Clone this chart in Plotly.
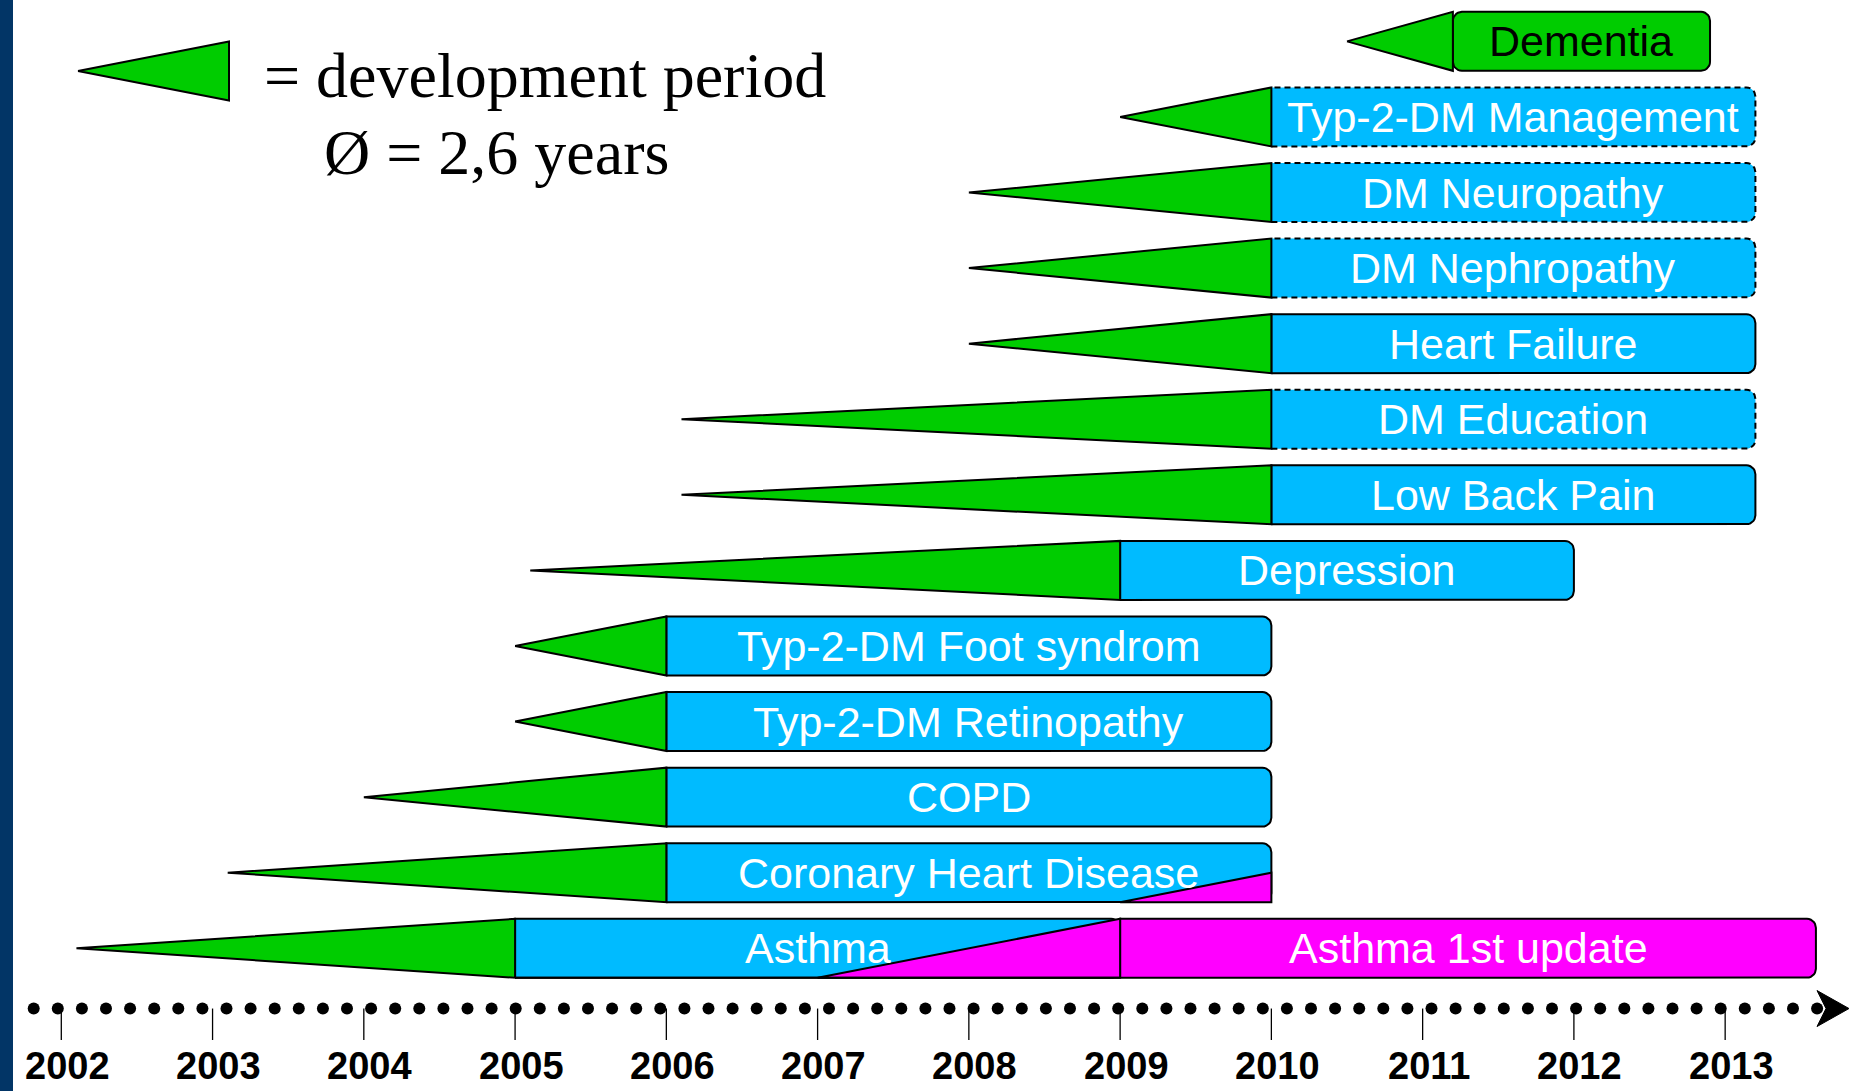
import numpy as np
import plotly.graph_objects as go

# ---------------- data ----------------
guidelines = ["Asthma", "Coronary Heart Disease", "COPD", "Typ-2-DM Retinopathy",
              "Typ-2-DM Foot syndrom", "Depression", "Low Back Pain", "DM Education",
              "Heart Failure", "DM Nephropathy", "DM Neuropathy",
              "Typ-2-DM Management", "Dementia"]
dev_start = [2002.1, 2003.1, 2004.0, 2005.0, 2005.0, 2005.1, 2006.1, 2006.1,
             2008.0, 2008.0, 2008.0, 2009.0, 2010.5]
published = [2005.0, 2006.0, 2006.0, 2006.0, 2006.0, 2009.0, 2010.0, 2010.0,
             2010.0, 2010.0, 2010.0, 2010.0, 2011.2]
valid_until = [2009.0, 2010.0, 2010.0, 2010.0, 2010.0, 2012.0, 2013.2, 2013.2,
               2013.2, 2013.2, 2013.2, 2013.2, 2012.9]
status = ["final", "final", "final", "final", "final", "final", "final", "draft",
          "final", "draft", "draft", "draft", "in development"]

# updates (start of update development, publication of update, validity end)
update_of = ["Asthma", "Coronary Heart Disease"]
update_start = [2007.0, 2009.0]
update_pub = [2009.0, None]
update_until = [2013.6, None]
update_label = ["Asthma 1st update", None]

years = list(range(2002, 2014))
year_labels = [str(y) for y in years]

legend_text = ["= development period", "Ø = 2,6 years"]

# ---------------- geometry / style ----------------
W, H = 1849, 1091
PX_PER_YEAR = 151.26
X0 = 2002 - 61.3 / PX_PER_YEAR
X1 = X0 + W / PX_PER_YEAR
PX_PER_ROW = 75.58
Y1 = 948.3 / PX_PER_ROW
Y0 = Y1 - H / PX_PER_ROW
HALF = 0.39  # half box height in rows

GREEN = "#00CC00"
BLUE = "#00BBFF"
MAGENTA = "#FF00FF"
NAVY = "#023566"
FONT = "Arial, 'Liberation Sans', sans-serif"
SERIF = "'Times New Roman', 'Liberation Serif', serif"

fig = go.Figure()


def poly(xs, ys, fill, line_color="black", width=2, dash=None, closed=True):
    if closed:
        xs = list(xs) + [xs[0]]
        ys = list(ys) + [ys[0]]
    fig.add_trace(go.Scatter(
        x=xs, y=ys, mode="lines",
        fill="toself" if fill else None, fillcolor=fill,
        line=dict(color=line_color, width=width, dash=dash),
        hoverinfo="skip", showlegend=False))


def rounded_box(x0, x1, yc, round_left=False, r_px=9):
    rx = r_px / PX_PER_YEAR
    ry = r_px / PX_PER_ROW
    yb, yt = yc - HALF, yc + HALF
    xs, ys = [], []
    if round_left:
        cx, cy = x0 + rx, yb + ry
        for a in np.linspace(np.pi, 1.5 * np.pi, 8):
            xs.append(cx + rx * np.cos(a)); ys.append(cy + ry * np.sin(a))
    else:
        xs.append(x0); ys.append(yb)
    cx, cy = x1 - rx, yb + ry
    for a in np.linspace(1.5 * np.pi, 2 * np.pi, 8):
        xs.append(cx + rx * np.cos(a)); ys.append(cy + ry * np.sin(a))
    cx, cy = x1 - rx, yt - ry
    for a in np.linspace(0, 0.5 * np.pi, 8):
        xs.append(cx + rx * np.cos(a)); ys.append(cy + ry * np.sin(a))
    if round_left:
        cx, cy = x0 + rx, yt - ry
        for a in np.linspace(0.5 * np.pi, np.pi, 8):
            xs.append(cx + rx * np.cos(a)); ys.append(cy + ry * np.sin(a))
    else:
        xs.append(x0); ys.append(yt)
    return xs, ys


annotations = []

for i, name in enumerate(guidelines):
    yc = i
    s, p, e, st = dev_start[i], published[i], valid_until[i], status[i]
    box_fill = GREEN if st == "in development" else BLUE
    xs, ys = rounded_box(p, e, yc, round_left=(st == "in development"))
    if st == "draft":
        poly(xs, ys, box_fill, line_color="rgba(0,0,0,0)", width=0)
        fig.add_trace(go.Scatter(
            x=[p] + xs[1:-1] + [p], y=[yc - HALF] + ys[1:-1] + [yc + HALF],
            mode="lines", line=dict(color="black", width=2, dash="6px,4px"),
            hoverinfo="skip", showlegend=False))
    else:
        poly(xs, ys, box_fill)
    # development triangle
    poly([s, p, p], [yc, yc - HALF, yc + HALF], GREEN)
    label_end = e
    if name in update_of:
        j = update_of.index(name)
        us, up = update_start[j], update_pub[j]
        if up is not None:
            xs2, ys2 = rounded_box(up, update_until[j], yc)
            poly(xs2, ys2, MAGENTA)
            poly([us, up, up], [yc - HALF, yc + HALF, yc - HALF], MAGENTA)
            poly([p, up], [yc - HALF, yc - HALF], None, closed=False)
            annotations.append(dict(x=(up + update_until[j]) / 2, y=yc, text=update_label[j],
                                    font=dict(family=FONT, size=43, color="white")))
            label_end = up
        else:
            poly([us, e, e], [yc - HALF, yc - HALF, yc], MAGENTA)
    txt_color = "black" if st == "in development" else "white"
    annotations.append(dict(x=(p + label_end) / 2, y=yc, text=name,
                            font=dict(family=FONT, size=43, color=txt_color)))

# ---------------- time axis ----------------
AX_Y = -0.797
TICK_Y = -1.213
LABEL_Y = -1.56
dot_step = 24.1 / PX_PER_YEAR
anchor = X0 + 1720.7 / PX_PER_YEAR
k_back = int(np.floor((anchor - (X0 + 14 / PX_PER_YEAR)) / dot_step))
dots_x = anchor + dot_step * np.arange(-k_back, 5)
for yv in years:
    fig.add_trace(go.Scatter(x=[yv, yv], y=[AX_Y, TICK_Y], mode="lines",
                             line=dict(color="black", width=1.3),
                             hoverinfo="skip", showlegend=False))
fig.add_trace(go.Scatter(x=dots_x, y=[AX_Y] * len(dots_x), mode="markers",
                         marker=dict(size=12, color="black"),
                         hoverinfo="skip", showlegend=False))
ax_ = X0 + np.array([1817, 1849, 1817, 1826]) / PX_PER_YEAR
ay_ = AX_Y + np.array([18, 0, -18, 0]) / PX_PER_ROW
poly(list(ax_), list(ay_), "black", width=1)

for yv, lab in zip(years, year_labels):
    annotations.append(dict(x=yv + 0.04, y=LABEL_Y, text="<b>" + lab + "</b>",
                            font=dict(family=FONT, size=38, color="black")))

# ---------------- legend ----------------
lg_tip = X0 + 78 / PX_PER_YEAR
lg_base = X0 + 229 / PX_PER_YEAR
lg_y = Y1 - 71 / PX_PER_ROW
poly([lg_tip, lg_base, lg_base], [lg_y, lg_y - HALF, lg_y + HALF], GREEN)
annotations.append(dict(x=262 / W, y=1 - 76 / H, xref="paper", yref="paper",
                        xanchor="left", text=legend_text[0],
                        font=dict(family=SERIF, size=64, color="black")))
annotations.append(dict(x=322 / W, y=1 - 153 / H, xref="paper", yref="paper",
                        xanchor="left", text=legend_text[1],
                        font=dict(family=SERIF, size=64, color="black")))

for a in annotations:
    a.setdefault("xref", "x")
    a.setdefault("yref", "y")
    a.setdefault("showarrow", False)
    a.setdefault("yanchor", "middle")
    a.setdefault("xanchor", "center")

fig.update_layout(
    width=W, height=H,
    margin=dict(l=0, r=0, t=0, b=0),
    paper_bgcolor="white", plot_bgcolor="white",
    xaxis=dict(range=[X0, X1], visible=False, fixedrange=True),
    yaxis=dict(range=[Y0, Y1], visible=False, fixedrange=True),
    annotations=annotations,
    shapes=[dict(type="rect", xref="paper", yref="paper", x0=0, x1=13 / W, y0=0, y1=1,
                 fillcolor=NAVY, line=dict(width=0), layer="above")],
    showlegend=False,
)

fig.write_html("out.html", config={"displayModeBar": False},
               post_script="document.body.style.margin='0';document.body.style.overflow='hidden';")
